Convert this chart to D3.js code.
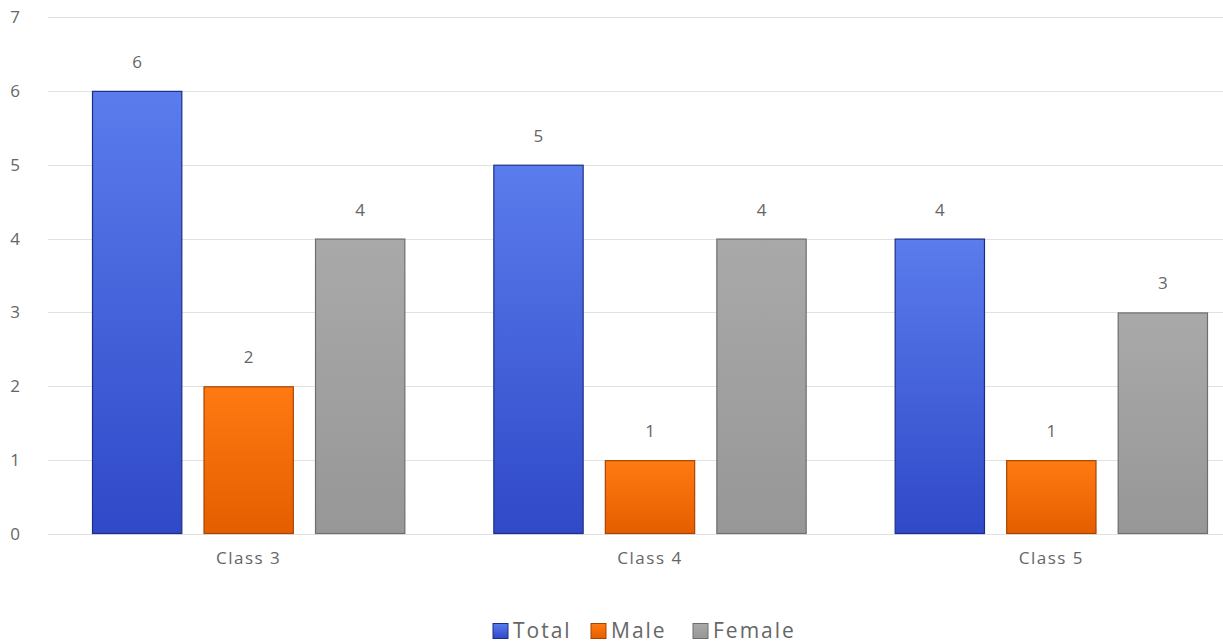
<!DOCTYPE html>
<html>
<head>
<meta charset="utf-8">
<script src="https://cdn.jsdelivr.net/npm/d3@7"></script>
<style>
  html, body { margin: 0; padding: 0; background: #fff; }
  svg { display: block; }
  text { font-family: "Open Sans", "Noto Sans", sans-serif; fill: #666; }
</style>
</head>
<body>
<svg id="chart" width="1223" height="643"></svg>
<script>
// Pupils per class, split by gender
const classes = ["Class 3", "Class 4", "Class 5"];
const seriesNames = ["Total", "Male", "Female"];
const totalValues = [6, 5, 4];
const maleValues = [2, 1, 1];
const femaleValues = [4, 4, 3];
const yTicks = [0, 1, 2, 3, 4, 5, 6, 7];

const seriesValues = { Total: totalValues, Male: maleValues, Female: femaleValues };
const palette = {
  Total:  { top: "#5a7cec", bottom: "#3049c8", stroke: "#1c2f86" },
  Male:   { top: "#ff7a12", bottom: "#e45e00", stroke: "#a94400" },
  Female: { top: "#a9a9a9", bottom: "#979797", stroke: "#6e6e6e" }
};

const svg = d3.select("#chart");
const margin = { left: 48, right: -29, top: 17, bottom: 109 };
const W = 1223, H = 643;

const x0 = d3.scaleBand().domain(classes)
  .range([margin.left, W - margin.right]).paddingInner(0).paddingOuter(0);
const x1 = d3.scaleBand().domain(seriesNames)
  .range([44, x0.bandwidth() - 44]).paddingInner(0.19).paddingOuter(0);
const y = d3.scaleLinear().domain([0, 7]).range([H - margin.bottom, margin.top]);

// gradients
const defs = svg.append("defs");
seriesNames.forEach(s => {
  const g = defs.append("linearGradient").attr("id", "grad-" + s)
    .attr("x1", 0).attr("y1", 0).attr("x2", 0).attr("y2", 1);
  g.append("stop").attr("offset", "0%").attr("stop-color", palette[s].top);
  g.append("stop").attr("offset", "100%").attr("stop-color", palette[s].bottom);
});

// gridlines
svg.append("g").selectAll("line").data(yTicks).join("line")
  .attr("x1", margin.left).attr("x2", W)
  .attr("y1", d => Math.round(y(d)) + 0.5).attr("y2", d => Math.round(y(d)) + 0.5)
  .attr("stroke", "#e2e2e2").attr("stroke-width", 1);

// y axis labels
const yAxis = d3.axisLeft(y).tickValues(yTicks).tickFormat(d3.format("d")).tickSize(0).tickPadding(0);
const gy = svg.append("g").attr("transform", "translate(20,0)").call(yAxis);
gy.select(".domain").remove();
gy.selectAll("text").attr("font-size", 17).style("fill", "#666")
  .attr("text-anchor", "middle").attr("x", -5);

// bars
const groups = svg.append("g").selectAll("g").data(classes).join("g")
  .attr("transform", c => `translate(${x0(c)},0)`);

groups.each(function (c, ci) {
  const g = d3.select(this);
  seriesNames.forEach(s => {
    const v = seriesValues[s][ci];
    g.append("rect")
      .attr("x", x1(s) + 0.5)
      .attr("y", y(v) + 0.5)
      .attr("width", x1.bandwidth() - 1)
      .attr("height", y(0) - y(v) - 1)
      .attr("fill", `url(#grad-${s})`)
      .attr("stroke", palette[s].stroke)
      .attr("stroke-width", 1.2);
    g.append("text")
      .attr("x", x1(s) + x1.bandwidth() / 2)
      .attr("y", y(v) - 23)
      .attr("text-anchor", "middle")
      .attr("font-size", 17)
      .text(v);
  });
});

// x axis category labels
const xAxis = d3.axisBottom(x0).tickSize(0).tickPadding(0);
const gx = svg.append("g").attr("transform", `translate(0,${y(0) + 24})`).call(xAxis);
gx.select(".domain").remove();
gx.selectAll("text").attr("font-size", 17).style("fill", "#666")
  .style("letter-spacing", "1.5px").attr("dy", "0.35em");

// legend
const legendItems = [
  { name: "Total", x: 493 },
  { name: "Male", x: 591 },
  { name: "Female", x: 693 }
];
const legend = svg.append("g").attr("transform", "translate(0,631)");
legendItems.forEach(it => {
  legend.append("rect").attr("x", it.x).attr("y", -7.5).attr("width", 15).attr("height", 15)
    .attr("fill", `url(#grad-${it.name})`).attr("stroke", palette[it.name].stroke).attr("stroke-width", 1);
  legend.append("text").attr("x", it.x + 20).attr("y", 0).attr("dy", "0.35em")
    .attr("font-size", 21).style("letter-spacing", "2px").text(it.name);
});
</script>
</body>
</html>
